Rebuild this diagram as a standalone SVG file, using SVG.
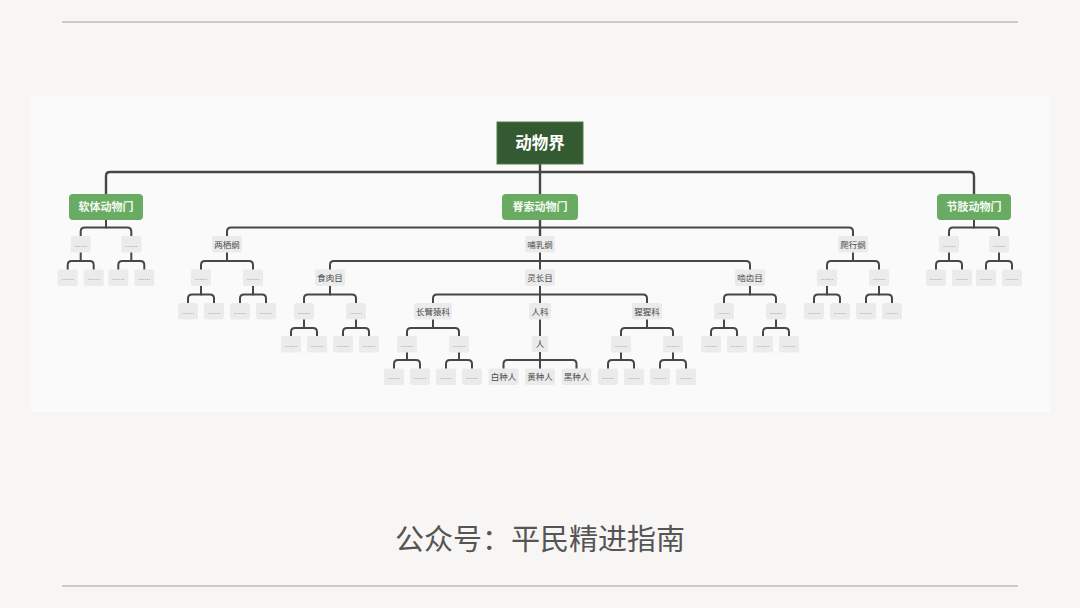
<svg xmlns="http://www.w3.org/2000/svg" xmlns:xlink="http://www.w3.org/1999/xlink" width="1080" height="608" viewBox="0 0 1080 608">
<style>
text{font-family:"Noto Sans CJK SC","Noto Sans",sans-serif;text-anchor:middle}
.conn path{fill:none;stroke:#474747;stroke-width:2;stroke-linecap:round;stroke-linejoin:round}
.conn .top{stroke-width:2.4}
.leaf{fill:#ebebeb}
.dots{font-family:"Liberation Sans",sans-serif;font-size:7.5px;fill:#858585}
.lbl{fill:#ebebeb}
.lt{font-size:8.5px;fill:#4a4a4a}
.phy{fill:#69ab62}
.pt{font-size:11px;font-weight:bold;fill:#f4fbf2}
.rule{stroke:#bdbdbd;stroke-width:1.5}
</style>
<defs>
<g id="dot"><rect x="-10" y="0" width="20" height="16.5" rx="2" class="leaf"/><text x="0" y="10.5" class="dots">......</text></g>
</defs>
<rect width="1080" height="608" fill="#f7f6f4"/>
<line class="rule" x1="62" y1="22" x2="1018" y2="22"/>
<line class="rule" x1="62" y1="586" x2="1018" y2="586"/>
<rect x="31" y="96" width="1019" height="316" fill="#fafafa"/>

<g class="conn" id="connectors">
<path class="top" d="M540 164 V236"/>
<path class="top" d="M106 194 V176 Q106 172 110 172 H970 Q974 172 974 176 V194"/>
<path d="M106 220 V227.5"/>
<path d="M80.7 236 V231.5 Q80.7 227.5 84.7 227.5 H127.3 Q131.3 227.5 131.3 231.5 V236"/>
<path d="M227 236 V231.5 Q227 227.5 231 227.5 H849 Q853 227.5 853 231.5 V236"/>
<path d="M974 220 V227.5"/>
<path d="M949 236 V231.5 Q949 227.5 953 227.5 H995 Q999 227.5 999 231.5 V236"/>
<path d="M80.7 252.5 V261"/>
<path d="M67.7 269.5 V265 Q67.7 261 71.7 261 H89.7 Q93.7 261 93.7 265 V269.5"/>
<path d="M131.3 252.5 V261"/>
<path d="M118.3 269.5 V265 Q118.3 261 122.3 261 H140.3 Q144.3 261 144.3 265 V269.5"/>
<path d="M227 252.5 V261"/>
<path d="M201 269.5 V265 Q201 261 205 261 H249 Q253 261 253 265 V269.5"/>
<path d="M540 252.5 V269.5"/>
<path d="M330 269.5 V265 Q330 261 334 261 H746 Q750 261 750 265 V269.5"/>
<path d="M853 252.5 V261"/>
<path d="M827 269.5 V265 Q827 261 831 261 H875 Q879 261 879 265 V269.5"/>
<path d="M949 252.5 V261"/>
<path d="M936 269.5 V265 Q936 261 940 261 H958 Q962 261 962 265 V269.5"/>
<path d="M999 252.5 V261"/>
<path d="M986 269.5 V265 Q986 261 990 261 H1008 Q1012 261 1012 265 V269.5"/>
<path d="M201 286 V294.5"/>
<path d="M188 303 V298.5 Q188 294.5 192 294.5 H210 Q214 294.5 214 298.5 V303"/>
<path d="M253 286 V294.5"/>
<path d="M240 303 V298.5 Q240 294.5 244 294.5 H262 Q266 294.5 266 298.5 V303"/>
<path d="M330 286 V294.5"/>
<path d="M304 303 V298.5 Q304 294.5 308 294.5 H352 Q356 294.5 356 298.5 V303"/>
<path d="M540 286 V303"/>
<path d="M433 303 V298.5 Q433 294.5 437 294.5 H643 Q647 294.5 647 298.5 V303"/>
<path d="M750 286 V294.5"/>
<path d="M724 303 V298.5 Q724 294.5 728 294.5 H772 Q776 294.5 776 298.5 V303"/>
<path d="M827 286 V294.5"/>
<path d="M814 303 V298.5 Q814 294.5 818 294.5 H836 Q840 294.5 840 298.5 V303"/>
<path d="M879 286 V294.5"/>
<path d="M866 303 V298.5 Q866 294.5 870 294.5 H888 Q892 294.5 892 298.5 V303"/>
<path d="M304 319.5 V328"/>
<path d="M291 336 V332 Q291 328 295 328 H313 Q317 328 317 332 V336"/>
<path d="M356 319.5 V328"/>
<path d="M343 336 V332 Q343 328 347 328 H365 Q369 328 369 332 V336"/>
<path d="M433 319.5 V328"/>
<path d="M407 336 V332 Q407 328 411 328 H455 Q459 328 459 332 V336"/>
<path d="M540 319.5 V336"/>
<path d="M647 319.5 V328"/>
<path d="M621 336 V332 Q621 328 625 328 H669 Q673 328 673 332 V336"/>
<path d="M724 319.5 V328"/>
<path d="M711 336 V332 Q711 328 715 328 H733 Q737 328 737 332 V336"/>
<path d="M776 319.5 V328"/>
<path d="M763 336 V332 Q763 328 767 328 H785 Q789 328 789 332 V336"/>
<path d="M407 352 V360"/>
<path d="M394 368.5 V364 Q394 360 398 360 H416 Q420 360 420 364 V368.5"/>
<path d="M459 352 V360"/>
<path d="M446 368.5 V364 Q446 360 450 360 H468 Q472 360 472 364 V368.5"/>
<path d="M540 352 V368.5"/>
<path d="M503.5 368.5 V364 Q503.5 360 507.5 360 H572.5 Q576.5 360 576.5 364 V368.5"/>
<path d="M621 352 V360"/>
<path d="M608 368.5 V364 Q608 360 612 360 H630 Q634 360 634 364 V368.5"/>
<path d="M673 352 V360"/>
<path d="M660 368.5 V364 Q660 360 664 360 H682 Q686 360 686 364 V368.5"/>
</g>

<g id="root"><rect x="497" y="122" width="86" height="42" fill="#345a31" stroke="#4f7a4a" stroke-width="1"/><text x="540" y="149" font-size="16.5" font-weight="bold" fill="#ffffff">动物界</text></g>

<g id="ruanti"><rect x="69" y="194" width="74" height="26" rx="4" class="phy"/><text x="106" y="211" class="pt">软体动物门</text></g>
<g id="jisuo"><rect x="502" y="194" width="76" height="26" rx="4" class="phy"/><text x="540" y="211" class="pt">脊索动物门</text></g>
<g id="jiezhi"><rect x="937" y="194" width="74" height="26" rx="4" class="phy"/><text x="974" y="211" class="pt">节肢动物门</text></g>

<g id="liangqi"><rect x="212" y="236" width="30" height="16.5" rx="2" class="lbl"/><text x="227" y="247.5" class="lt">两栖纲</text></g>
<g id="buru"><rect x="525" y="236" width="30" height="16.5" rx="2" class="lbl"/><text x="540" y="247.5" class="lt">哺乳纲</text></g>
<g id="paxing"><rect x="838" y="236" width="30" height="16.5" rx="2" class="lbl"/><text x="853" y="247.5" class="lt">爬行纲</text></g>

<g id="shirou"><rect x="315" y="269.5" width="30" height="16.5" rx="2" class="lbl"/><text x="330" y="281" class="lt">食肉目</text></g>
<g id="lingzhang"><rect x="525" y="269.5" width="30" height="16.5" rx="2" class="lbl"/><text x="540" y="281" class="lt">灵长目</text></g>
<g id="niechi"><rect x="735" y="269.5" width="30" height="16.5" rx="2" class="lbl"/><text x="750" y="281" class="lt">啮齿目</text></g>

<g id="changbiyuan"><rect x="414" y="303" width="38" height="16.5" rx="2" class="lbl"/><text x="433" y="314.5" class="lt">长臂猿科</text></g>
<g id="renke"><rect x="529" y="303" width="22" height="16.5" rx="2" class="lbl"/><text x="540" y="314.5" class="lt">人科</text></g>
<g id="xingxing"><rect x="632" y="303" width="30" height="16.5" rx="2" class="lbl"/><text x="647" y="314.5" class="lt">猩猩科</text></g>

<g id="ren"><rect x="532" y="336" width="16" height="16" rx="2" class="lbl"/><text x="540" y="347.3" class="lt">人</text></g>

<g id="baizhong"><rect x="488.5" y="368.5" width="30" height="16.5" rx="2" class="lbl"/><text x="503.5" y="380" class="lt">白种人</text></g>
<g id="huangzhong"><rect x="525" y="368.5" width="30" height="16.5" rx="2" class="lbl"/><text x="540" y="380" class="lt">黄种人</text></g>
<g id="heizhong"><rect x="561.5" y="368.5" width="30" height="16.5" rx="2" class="lbl"/><text x="576.5" y="380" class="lt">黑种人</text></g>

<g id="rt-a"><use href="#dot" x="80.7" y="236"/></g>
<g id="rt-b"><use href="#dot" x="131.3" y="236"/></g>
<g id="rt-a1"><use href="#dot" x="67.7" y="269.5"/></g>
<g id="rt-a2"><use href="#dot" x="93.7" y="269.5"/></g>
<g id="rt-b1"><use href="#dot" x="118.3" y="269.5"/></g>
<g id="rt-b2"><use href="#dot" x="144.3" y="269.5"/></g>

<g id="jz-a"><use href="#dot" x="949" y="236"/></g>
<g id="jz-b"><use href="#dot" x="999" y="236"/></g>
<g id="jz-a1"><use href="#dot" x="936" y="269.5"/></g>
<g id="jz-a2"><use href="#dot" x="962" y="269.5"/></g>
<g id="jz-b1"><use href="#dot" x="986" y="269.5"/></g>
<g id="jz-b2"><use href="#dot" x="1012" y="269.5"/></g>

<g id="lq-a"><use href="#dot" x="201" y="269.5"/></g>
<g id="lq-b"><use href="#dot" x="253" y="269.5"/></g>
<g id="lq-a1"><use href="#dot" x="188" y="303"/></g>
<g id="lq-a2"><use href="#dot" x="214" y="303"/></g>
<g id="lq-b1"><use href="#dot" x="240" y="303"/></g>
<g id="lq-b2"><use href="#dot" x="266" y="303"/></g>

<g id="px-a"><use href="#dot" x="827" y="269.5"/></g>
<g id="px-b"><use href="#dot" x="879" y="269.5"/></g>
<g id="px-a1"><use href="#dot" x="814" y="303"/></g>
<g id="px-a2"><use href="#dot" x="840" y="303"/></g>
<g id="px-b1"><use href="#dot" x="866" y="303"/></g>
<g id="px-b2"><use href="#dot" x="892" y="303"/></g>

<g id="sr-a"><use href="#dot" x="304" y="303"/></g>
<g id="sr-b"><use href="#dot" x="356" y="303"/></g>
<g id="sr-a1"><use href="#dot" x="291" y="336"/></g>
<g id="sr-a2"><use href="#dot" x="317" y="336"/></g>
<g id="sr-b1"><use href="#dot" x="343" y="336"/></g>
<g id="sr-b2"><use href="#dot" x="369" y="336"/></g>

<g id="nc-a"><use href="#dot" x="724" y="303"/></g>
<g id="nc-b"><use href="#dot" x="776" y="303"/></g>
<g id="nc-a1"><use href="#dot" x="711" y="336"/></g>
<g id="nc-a2"><use href="#dot" x="737" y="336"/></g>
<g id="nc-b1"><use href="#dot" x="763" y="336"/></g>
<g id="nc-b2"><use href="#dot" x="789" y="336"/></g>

<g id="cb-a"><use href="#dot" x="407" y="336"/></g>
<g id="cb-b"><use href="#dot" x="459" y="336"/></g>
<g id="cb-a1"><use href="#dot" x="394" y="368.5"/></g>
<g id="cb-a2"><use href="#dot" x="420" y="368.5"/></g>
<g id="cb-b1"><use href="#dot" x="446" y="368.5"/></g>
<g id="cb-b2"><use href="#dot" x="472" y="368.5"/></g>

<g id="xx-a"><use href="#dot" x="621" y="336"/></g>
<g id="xx-b"><use href="#dot" x="673" y="336"/></g>
<g id="xx-a1"><use href="#dot" x="608" y="368.5"/></g>
<g id="xx-a2"><use href="#dot" x="634" y="368.5"/></g>
<g id="xx-b1"><use href="#dot" x="660" y="368.5"/></g>
<g id="xx-b2"><use href="#dot" x="686" y="368.5"/></g>

<text x="540" y="550" font-size="29" fill="#555555">公众号：平民精进指南</text>
</svg>
